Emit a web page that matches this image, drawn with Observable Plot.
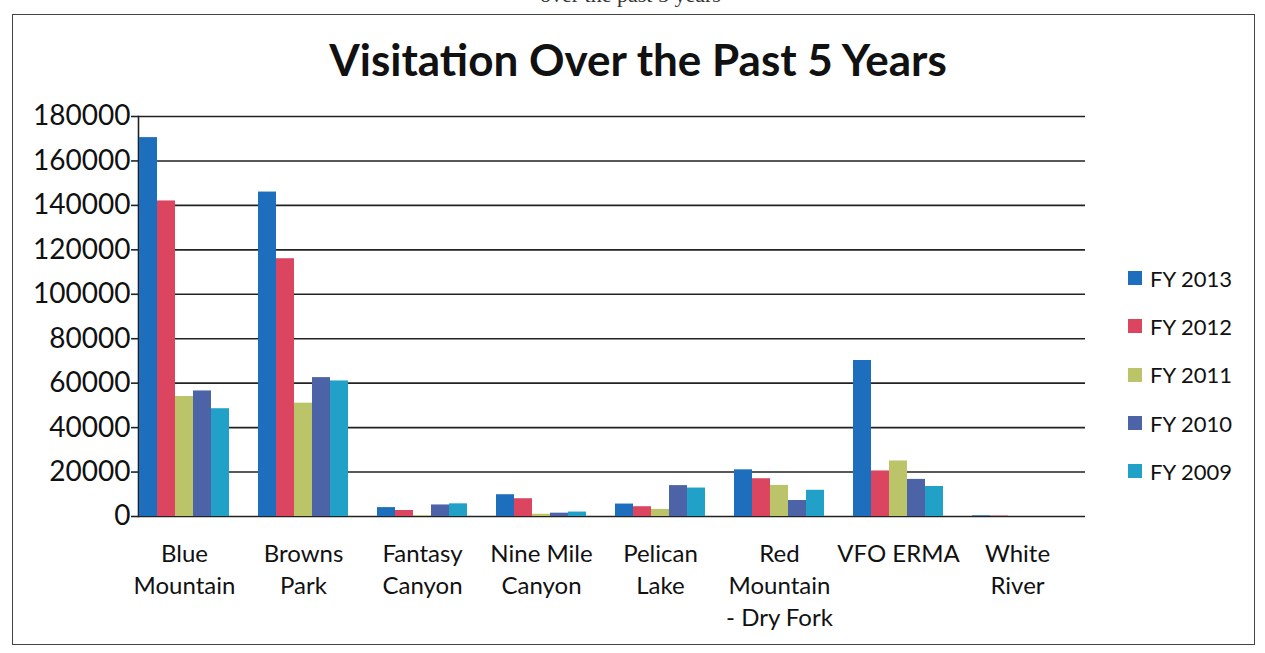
<!DOCTYPE html>
<html><head><meta charset="utf-8">
<script src="https://cdn.jsdelivr.net/npm/d3@7"></script>
<script src="https://cdn.jsdelivr.net/npm/@observablehq/plot@0.6"></script>
<style>
body{margin:0;background:#fff;width:1265px;height:653px;overflow:hidden;position:relative;font-family:Lato, sans-serif;color:#111;}
#frame{position:absolute;left:12px;top:14px;width:1243px;height:631px;border:1.5px solid #444;box-sizing:border-box;}
#scan{position:absolute;left:540px;top:-18px;font-family:"Liberation Serif",serif;font-size:22px;color:#333;white-space:nowrap;}
#title{position:absolute;left:0;width:1276px;top:33px;text-align:center;font-weight:700;font-size:44px;}
.layer{position:absolute;left:0;top:95px;}
#legend{position:absolute;left:1128px;top:254px;}
.item{display:flex;align-items:center;height:48.3px;font-size:22px;}
.sw{width:14px;height:14px;margin-right:8px;}
</style></head><body>
<div id="frame"></div>
<div id="scan">over the past 5 years</div>
<div id="title">Visitation Over the Past 5 Years</div>
<div id="grid" class="layer"></div>
<div id="chart" class="layer"></div>
<div id="legend"></div>
<script>
const categories = ["Blue Mountain","Browns Park","Fantasy Canyon","Nine Mile Canyon","Pelican Lake","Red Mountain - Dry Fork","VFO ERMA","White River"];
const tickLabels = ["Blue\nMountain","Browns\nPark","Fantasy\nCanyon","Nine Mile\nCanyon","Pelican\nLake","Red\nMountain\n- Dry Fork","VFO ERMA","White\nRiver"];
const years = ["FY 2013","FY 2012","FY 2011","FY 2010","FY 2009"];
const colors = ["#1d6fbe","#dc4560","#bcc46a","#4d63a8","#21a0c8"];
const fy2013 = [170500,146000,4000,9800,5600,21000,70200,300];
const fy2012 = [142000,116000,2700,8000,4400,17000,20500,200];
const fy2011 = [54000,51000,300,1000,3200,14000,25000,0];
const fy2010 = [56500,62500,5200,1500,13900,7200,16700,0];
const fy2009 = [48500,61000,5700,2000,12800,11800,13500,0];
const yTicks = [0,20000,40000,60000,80000,100000,120000,140000,160000,180000];

const series = [fy2013,fy2012,fy2011,fy2010,fy2009];
const data = [];
categories.forEach((c,i)=>years.forEach((y,j)=>data.push({category:c,year:y,value:series[j][i]})));
const labelOf = new Map(categories.map((c,i)=>[c,tickLabels[i]]));

const common = {
  width:1265, height:550,
  marginLeft:138, marginRight:180, marginTop:21, marginBottom:129,
  style:{fontFamily:"Lato, sans-serif", color:"#111", background:"transparent", overflow:"visible"},
  y:{domain:[0,180000], label:null}
};

const gridPlot = Plot.plot({
  ...common,
  x:{axis:null},
  marks:[
    Plot.ruleY(yTicks, {stroke:"#222", strokeWidth:1.6}),
    Plot.axisY({ticks:yTicks, tickFormat:d=>String(d), tickSize:7, tickPadding:1, fontSize:28, label:null, stroke:"#222", strokeWidth:1.6}),
    Plot.frame({anchor:"left", stroke:"#222", strokeWidth:1.6})
  ]
});
document.getElementById("grid").appendChild(gridPlot);

const barPlot = Plot.plot({
  ...common,
  fx:{domain:categories, paddingInner:0.23, paddingOuter:0.07, align:0, label:null},
  x:{domain:years, padding:0, axis:null},
  color:{domain:years, range:colors},
  marks:[
    Plot.barY(data, {fx:"category", x:"year", y:"value", fill:"year"}),
    Plot.axisY({ticks:[], label:null}),
    Plot.axisFx({anchor:"bottom", tickFormat:d=>labelOf.get(d), tickSize:0, tickPadding:22, lineHeight:1.35, fontSize:24, label:null})
  ]
});
document.getElementById("chart").appendChild(barPlot);

const legend = d3.select("#legend");
years.forEach((y,i)=>{
  const it = legend.append("div").attr("class","item");
  it.append("div").attr("class","sw").style("background",colors[i]);
  it.append("span").text(y);
});
</script>
</body></html>
